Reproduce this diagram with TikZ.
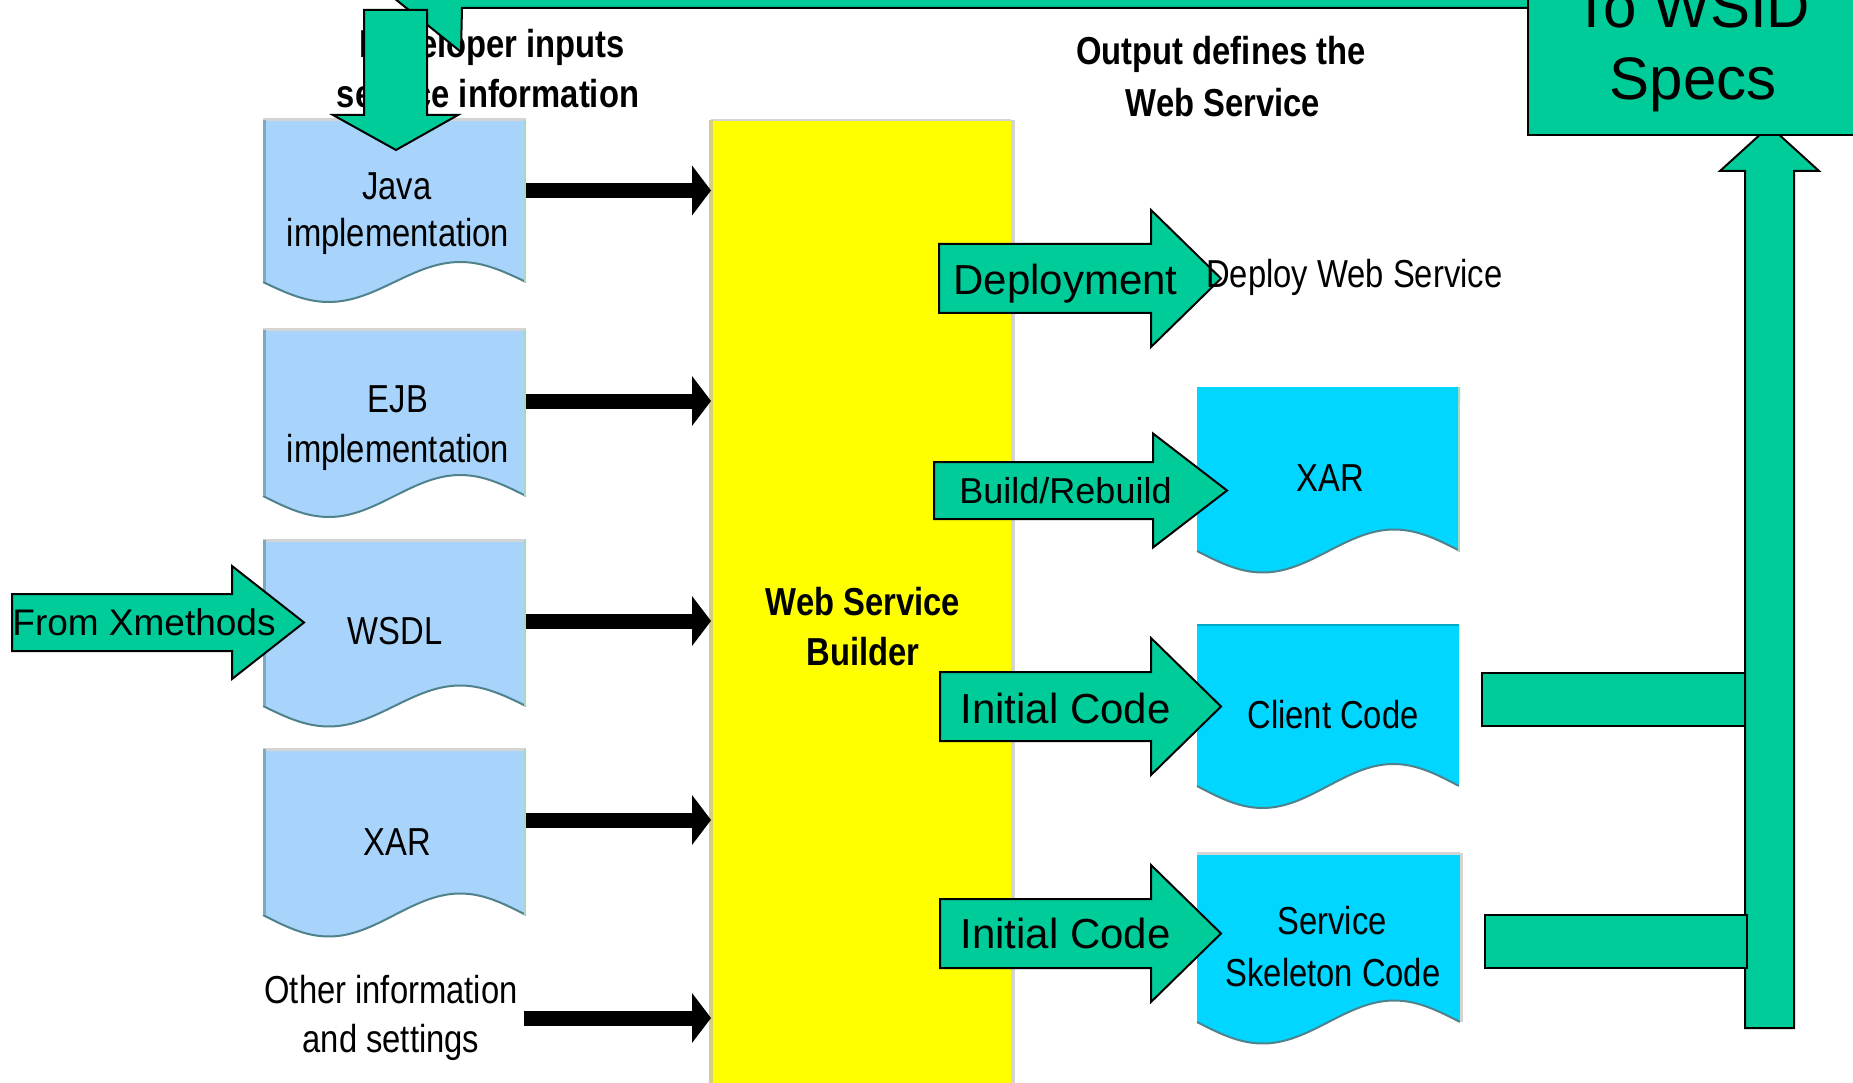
\documentclass[tikz,border=0pt]{standalone}
\usepackage{fontspec}
\setmainfont{Liberation Sans}
\newfontfamily\condfont[FakeStretch=0.84]{Liberation Sans}
\definecolor{grn}{RGB}{0,204,153}
\definecolor{ltblue}{RGB}{168,212,252}
\definecolor{cyanb}{RGB}{0,214,255}
\definecolor{ylw}{RGB}{255,255,0}
\definecolor{wavec}{RGB}{80,130,140}
\definecolor{edgegray}{RGB}{212,212,212}
\definecolor{khaki}{RGB}{212,208,128}
\definecolor{steel}{RGB}{125,168,196}
\definecolor{paleg}{RGB}{168,216,192}
\definecolor{tealedge}{RGB}{0,170,195}
\newcommand{\docshape}[6]{% fill, x1, top, x2, base, amp
  \fill[#1] (#2,#3) -- (#2,#5) -- plot[domain=0:1,samples=60] ({#2+\x*(#4-#2)},{#5+#6*sin(360*\x)}) -- (#4,#3) -- cycle;
  \draw[wave] (#2,#5) -- plot[domain=0:1,samples=60] ({#2+\x*(#4-#2)},{#5+#6*sin(360*\x)});
}
\newcommand{\rblock}[6]{% x0, yc, xb, xt, half body, half head
  \draw[garrow] (#1,#2-#5) -- (#3,#2-#5) -- (#3,#2-#6) -- (#4,#2) -- (#3,#2+#6) -- (#3,#2+#5) -- (#1,#2+#5) -- cycle;
}
\newcommand{\bhead}[1]{\fill[black] (#1) -- ++(-19,-25) -- ++(0,50) -- cycle;}
\tikzset{
  garrow/.style={fill=grn, draw=black, line width=2pt, line join=miter},
  wave/.style={draw=wavec, line width=2pt},
  lbl/.style={anchor=base, inner sep=0pt, font=\condfont\fontsize{39}{47}\selectfont},
  blbl/.style={anchor=base, inner sep=0pt, font=\condfont\bfseries\fontsize{39}{47}\selectfont},
  glbl/.style={anchor=base, inner sep=0pt, font=\fontsize{42}{50}\selectfont},
  slbl/.style={anchor=base, inner sep=0pt, font=\fontsize{37}{44}\selectfont},
  shaft/.style={line width=15pt, black},
}
\begin{document}
\begin{tikzpicture}[x=1pt,y=-1pt]
\useasboundingbox (0,0) rectangle (1853,1083);
\clip (0,0) rectangle (1853,1083);
\fill[white] (0,0) rectangle (1853,1083);

% headings
\node[blbl] (dev1) at (492,58) {Developer inputs};
\node[blbl] (dev2) at (488,108) {service information};
\node[blbl] (out1) at (1221,65) {Output defines the};
\node[blbl] (out2) at (1223,117) {Web Service};

% left documents
\docshape{ltblue}{263}{120}{526}{282}{20}
\docshape{ltblue}{263}{330}{526}{496}{21}
\docshape{ltblue}{263}{540}{526}{706}{20.5}
\docshape{ltblue}{263}{749}{526}{915}{21.5}
\foreach \t/\b in {120/282,330/496,540/706,749/915}{
  \draw[edgegray,line width=3pt] (263,\t) -- (526,\t);
  \draw[steel,line width=3pt] (264.5,\t) -- (264.5,\b);
  \draw[paleg,line width=2pt] (525,\t) -- (525,\b);
}
\node[lbl] (java1) at (397,200) {Java};
\node[lbl] (java2) at (398,247) {implementation};
\node[lbl] (ejb1) at (398,412) {EJB};
\node[lbl] (ejb2) at (398,462) {implementation};
\node[lbl] (wsdl) at (395,644) {WSDL};
\node[lbl] (xarl) at (397,855) {XAR};
\node[lbl] (oth1) at (391,1003) {Other information};
\node[lbl] (oth2) at (391,1052) {and settings};

% builder
\fill[ylw] (711,120) rectangle (1011,1090);
\draw[edgegray,line width=2pt] (711,120) -- (1011,120);
\draw[khaki,line width=4pt] (711,120) -- (711,1090);
\draw[edgegray,line width=4pt] (1013,120) -- (1013,1090);
\node[blbl] (wsb1) at (863,615) {Web Service};
\node[blbl] (wsb2) at (863,665) {Builder};
\coordinate (wsbL) at (711,0);
\coordinate (headB) at (692,0);

% black input connectors
\coordinate (javaR) at (526,190.5);
\coordinate (ejbR) at (526,401);
\coordinate (wsdlR) at (526,621);
\coordinate (xarR) at (526,820);
\coordinate (othR) at (524,1018);
\foreach \s in {javaR,ejbR,wsdlR,xarR,othR}{
  \draw[shaft] (\s) -- (\s -| headB);
  \bhead{\s -| wsbL}
}

% right documents
\docshape{cyanb}{1197}{387}{1460}{551}{21.5}
\docshape{cyanb}{1197}{624}{1459}{786}{22}
\docshape{cyanb}{1197}{853}{1460}{1022}{21.5}
\draw[tealedge,line width=2pt] (1197,625) -- (1459,625);
\draw[edgegray,line width=3pt] (1197,853) -- (1460,853);
\draw[edgegray,line width=3pt] (1461,853) -- (1461,1022);
\draw[paleg,line width=2pt] (1459,387) -- (1459,551);
\node[lbl] (xarr) at (1330,491) {XAR};
\node[lbl] (client) at (1333,728) {Client Code};
\node[lbl] (svc1) at (1332,934) {Service};
\node[lbl] (svc2) at (1333,986) {Skeleton Code};

% green output arrows
\rblock{939}{278.5}{1151}{1221}{34.5}{68.5}
\rblock{934}{490.5}{1153}{1227}{28.5}{57}
\rblock{940}{706.5}{1151}{1221}{34.5}{68.5}
\rblock{940}{933.5}{1151}{1221}{34.5}{68.5}
\rblock{12}{622.5}{232}{304}{28.5}{56.5}
\node[glbl] (dep) at (1065.5,295) {Deployment};
\node[glbl, font=\fontsize{36}{43}\selectfont] (build) at (1065.5,503) {Build/Rebuild};
\node[glbl] (init1) at (1065.5,723) {Initial Code};
\node[glbl] (init2) at (1065.5,948) {Initial Code};
\node[slbl] (xm) at (144,635) {From Xmethods};
\node[lbl, anchor=base west] (deploy) at (1206,288) {Deploy Web Service};

% right collector to WSID specs
\draw[garrow] (1482,673) rectangle (1745,726);
\draw[garrow] (1745,1028) -- (1745,171) -- (1720,171) -- (1769.5,126) -- (1819,171) -- (1794,171) -- (1794,1028) -- cycle;
\draw[garrow] (1485,915) rectangle (1747,968);
\draw[garrow] (384,-10) -- (461,52) -- (462,8) -- (1540,8) -- (1540,-30) -- (384,-30) -- cycle;
\draw[garrow] (1528,135) rectangle (1880,-80);
\node[anchor=base, inner sep=0pt, font=\fontsize{60}{72}\selectfont] (wsid1) at (1692,28) {To WSID};
\node[anchor=base, inner sep=0pt, font=\fontsize{60}{72}\selectfont] (wsid2) at (1693,100) {Specs};

% developer input arrow
\draw[garrow] (364,10) -- (427,10) -- (427,115) -- (458,115) -- (396,150) -- (333,115) -- (364,115) -- cycle;
\end{tikzpicture}
\end{document}
